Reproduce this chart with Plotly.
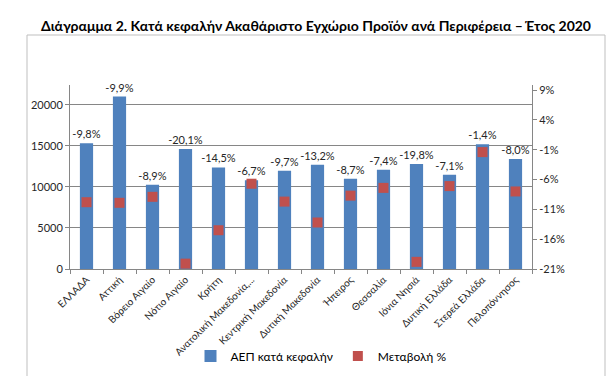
import plotly.graph_objects as go

regions = ["ΕΛΛΑΔΑ", "Αττική", "Βόρειο Αιγαίο", "Νότιο Αιγαίο", "Κρήτη",
           "Ανατολική Μακεδονία,...", "Κεντρική Μακεδονία", "Δυτική Μακεδονία",
           "Ήπειρος", "Θεσσαλία", "Ιόνια Νησιά", "Δυτική Ελλάδα", "Στερεά Ελλάδα",
           "Πελοπόννησος"]
gdp_per_capita = [15300, 21000, 10250, 14600, 12370, 10790, 11960, 12690,
                  10990, 12080, 12770, 11470, 15200, 13380]
change_pct = [-9.8, -9.9, -8.9, -20.1, -14.5, -6.7, -9.7, -13.2,
              -8.7, -7.4, -19.8, -7.1, -1.4, -8.0]
left_ticks = [0, 5000, 10000, 15000, 20000]
right_ticks = [-21, -16, -11, -6, -1, 4, 9]

font_family = "Lato, 'Open Sans', sans-serif"
labels = [f"{v:.1f}%".replace(".", ",") for v in change_pct]

fig = go.Figure()
fig.add_trace(go.Bar(
    x=regions, y=gdp_per_capita, name="ΑΕΠ κατά κεφαλήν",
    marker=dict(color="#4F81BD", line=dict(width=0)),
    text=labels, textposition="outside", cliponaxis=False,
    constraintext="none",
    textfont=dict(size=11, color="#262626", family=font_family),
))
fig.add_trace(go.Scatter(
    x=regions, y=change_pct, name="Μεταβολή %", yaxis="y2", mode="markers",
    marker=dict(symbol="square", size=10, color="#C0504D"), cliponaxis=False,
))

fig.update_layout(
    width=614, height=376,
    margin=dict(l=62, r=90, t=77, b=115, autoexpand=False),
    paper_bgcolor="white", plot_bgcolor="white",
    font=dict(family=font_family, size=11, color="#262626"),
    title=dict(text="<b>Διάγραμμα 2. Κατά κεφαλήν Ακαθάριστο Εγχώριο Προϊόν ανά Περιφέρεια – Έτος 2020</b>",
               x=(308 - 62) / 462, xanchor="center", y=1 - 18/376, yanchor="middle",
               xref="paper",
               font=dict(size=14, color="#000000", family=font_family)),
    bargap=0.6,
    showlegend=True,
    legend=dict(orientation="h", x=(313 - 62) / 462, xanchor="center",
                y=(261 - 348) / 184, yanchor="middle", font=dict(size=12, color="#000000"),
                traceorder="normal", bgcolor="rgba(0,0,0,0)", itemwidth=30),
    xaxis=dict(range=[-0.5, len(regions) - 0.5], autorange=False,
               showline=True, linecolor="#868686", ticks="outside",
               tickson="boundaries", tickcolor="#868686", ticklen=4,
               tickangle=-45, tickfont=dict(size=10), showgrid=False,
               automargin=False),
    yaxis=dict(range=[0, 22400], tickvals=left_ticks, tickformat="d",
               showline=True, linecolor="#868686", ticks="outside",
               tickcolor="#868686", ticklen=4, showgrid=True,
               gridcolor="#868686", gridwidth=1, zeroline=False,
               automargin=False),
    yaxis2=dict(overlaying="y", side="right", range=[-21, 9.85],
                tickvals=right_ticks,
                ticktext=[f"{v}%" for v in right_ticks],
                showline=True, linecolor="#868686", ticks="outside",
                tickcolor="#868686", ticklen=4, showgrid=False, zeroline=False,
                automargin=False),
    shapes=[dict(type="rect", xref="paper", yref="paper",
                 x0=(19 - 62) / 462, x1=(597 - 62) / 462,
                 y0=(261 - 370) / 184, y1=(261 - 27) / 184,
                 line=dict(color="#BFBFBF", width=1), layer="below")],
)

fig.write_html("out.html")
